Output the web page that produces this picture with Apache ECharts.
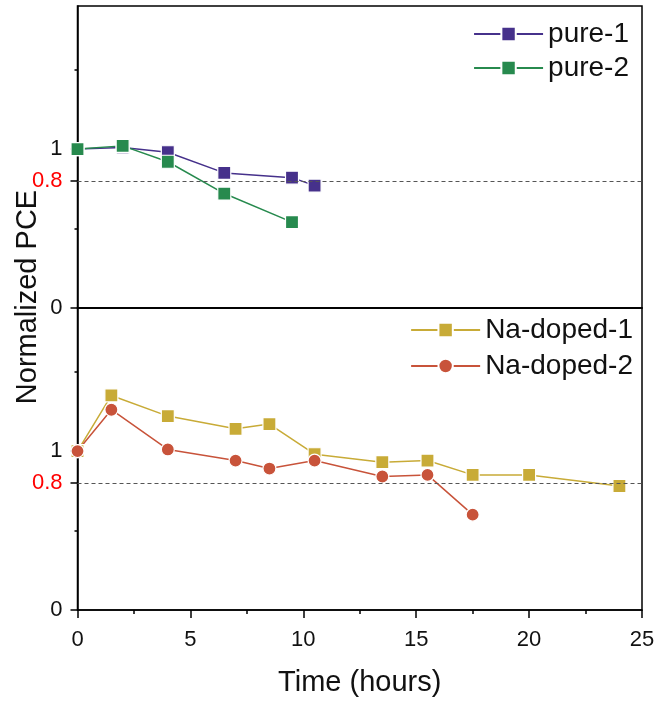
<!DOCTYPE html>
<html>
<head>
<meta charset="utf-8">
<script src="https://cdn.jsdelivr.net/npm/echarts@6/dist/echarts.min.js"></script>
<style>
  html, body { margin: 0; padding: 0; background: #fff; }
  #chart { width: 659px; height: 702px; }
</style>
</head>
<body>
<div id="chart"></div>
<script>
// time in hours / normalized PCE
const pure1X = [0, 2, 4, 6.5, 9.5, 10.5]
const pure1Y = [1.0, 1.01, 0.98, 0.85, 0.82, 0.77]
const pure2X = [0, 2, 4, 6.5, 9.5]
const pure2Y = [1.0, 1.02, 0.92, 0.72, 0.54]
const na1X = [0, 1.5, 4, 7, 8.5, 10.5, 13.5, 15.5, 17.5, 20, 24]
const na1Y = [1.0, 1.35, 1.22, 1.14, 1.17, 0.98, 0.93, 0.94, 0.85, 0.85, 0.78]
const na2X = [0, 1.5, 4, 7, 8.5, 10.5, 13.5, 15.5, 17.5]
const na2Y = [1.0, 1.26, 1.01, 0.94, 0.89, 0.94, 0.84, 0.85, 0.6]

const xTicks = [0, 5, 10, 15, 20, 25]
const yLabels = [0, 0.8, 1]
const yMinor = [0.5, 1.5]
const threshold = 0.8

const font = '"Liberation Sans", Arial, Helvetica, sans-serif'
const zip = (xs, ys) => xs.map((x, i) => [x, ys[i]])

const grids = [
  { left: 77.5, right: 17, top: 6, height: 302 },
  { left: 77.5, right: 17, top: 308, height: 302 }
]

const makeX = (gi, showLabels) => ({
  type: 'value', gridIndex: gi, min: 0, max: 25, interval: 5,
  axisLine: { lineStyle: { color: '#000', width: 1.5 } },
  axisTick: { show: showLabels, length: 8, lineStyle: { color: '#000', width: 1.5 } },
  minorTick: { show: showLabels, splitNumber: 2, length: 4, lineStyle: { color: '#000', width: 1.5 } },
  axisLabel: { show: showLabels, fontSize: 22, fontFamily: font, color: '#111', margin: 19 },
  splitLine: { show: false },
  name: showLabels ? 'Time (hours)' : '',
  nameLocation: 'middle', nameGap: 58,
  nameTextStyle: { fontSize: 29, fontFamily: font, color: '#111' }
})

const makeY = gi => ({
  type: 'value', gridIndex: gi, min: 0, max: 1.9, position: 'left',
  axisLine: { lineStyle: { color: '#000', width: 1.5 } },
  axisTick: { customValues: yLabels, length: 7, lineStyle: { color: '#000', width: 1.5 } },
  axisLabel: {
    customValues: yLabels, fontSize: 22, fontFamily: font, color: '#111', margin: 15,
    formatter: v => (v === threshold ? '{r|0.8}' : String(v)),
    rich: { r: { color: '#ff0000', fontSize: 22, fontFamily: font } }
  },
  splitLine: { show: false }
})

const makeYMinor = gi => ({
  type: 'value', gridIndex: gi, min: 0, max: 1.9, position: 'left', offset: 0,
  axisLine: { show: false },
  axisTick: { customValues: yMinor, length: 3, lineStyle: { color: '#000', width: 1.5 } },
  axisLabel: { show: false },
  splitLine: { show: false }
})

const dashLine = {
  silent: true, symbol: 'none', label: { show: false },
  lineStyle: { color: '#555', type: [4, 3], width: 1 },
  data: [{ yAxis: threshold }]
}

const makeSeries = (name, data, color, symbol, gi, withMark) => ({
  name, type: 'line', data,
  xAxisIndex: gi, yAxisIndex: gi * 2,
  symbol, symbolSize: 13,
  showAllSymbol: true,
  lineStyle: { color, width: 1.5 },
  itemStyle: { color, borderColor: '#fff', borderWidth: 1.2 },
  markLine: withMark ? dashLine : undefined
})

const legendBase = {
  orient: 'vertical', itemWidth: 69, itemHeight: 18,
  textStyle: { fontSize: 28, fontFamily: font, color: '#111' }
}

const chart = echarts.init(document.getElementById('chart'), null, { renderer: 'canvas' })
chart.setOption({
  backgroundColor: '#fff',
  animation: false,
  grid: grids.map(g => ({ ...g, show: true, borderColor: '#000', borderWidth: 1.5, backgroundColor: 'transparent' })),
  xAxis: [makeX(0, false), makeX(1, true)],
  yAxis: [makeY(0), makeYMinor(0), makeY(1), makeYMinor(1)],
  legend: [
    { ...legendBase, data: ['pure-1', 'pure-2'], right: 25, top: 15, itemGap: 6 },
    { ...legendBase, data: ['Na-doped-1', 'Na-doped-2'], right: 21, top: 311, itemGap: 8 }
  ],
  graphic: [{
    type: 'text', x: 28, y: 297, rotation: Math.PI / 2,
    style: { text: 'Normalized PCE', font: '29px ' + font, fill: '#111', align: 'center', verticalAlign: 'middle' }
  }],
  series: [
    makeSeries('pure-1', zip(pure1X, pure1Y), '#46318b', 'rect', 0, true),
    makeSeries('pure-2', zip(pure2X, pure2Y), '#278a4e', 'rect', 0, false),
    makeSeries('Na-doped-1', zip(na1X, na1Y), '#c8ab37', 'rect', 1, true),
    makeSeries('Na-doped-2', zip(na2X, na2Y), '#c8533a', 'circle', 1, false)
  ]
})
</script>
</body>
</html>
